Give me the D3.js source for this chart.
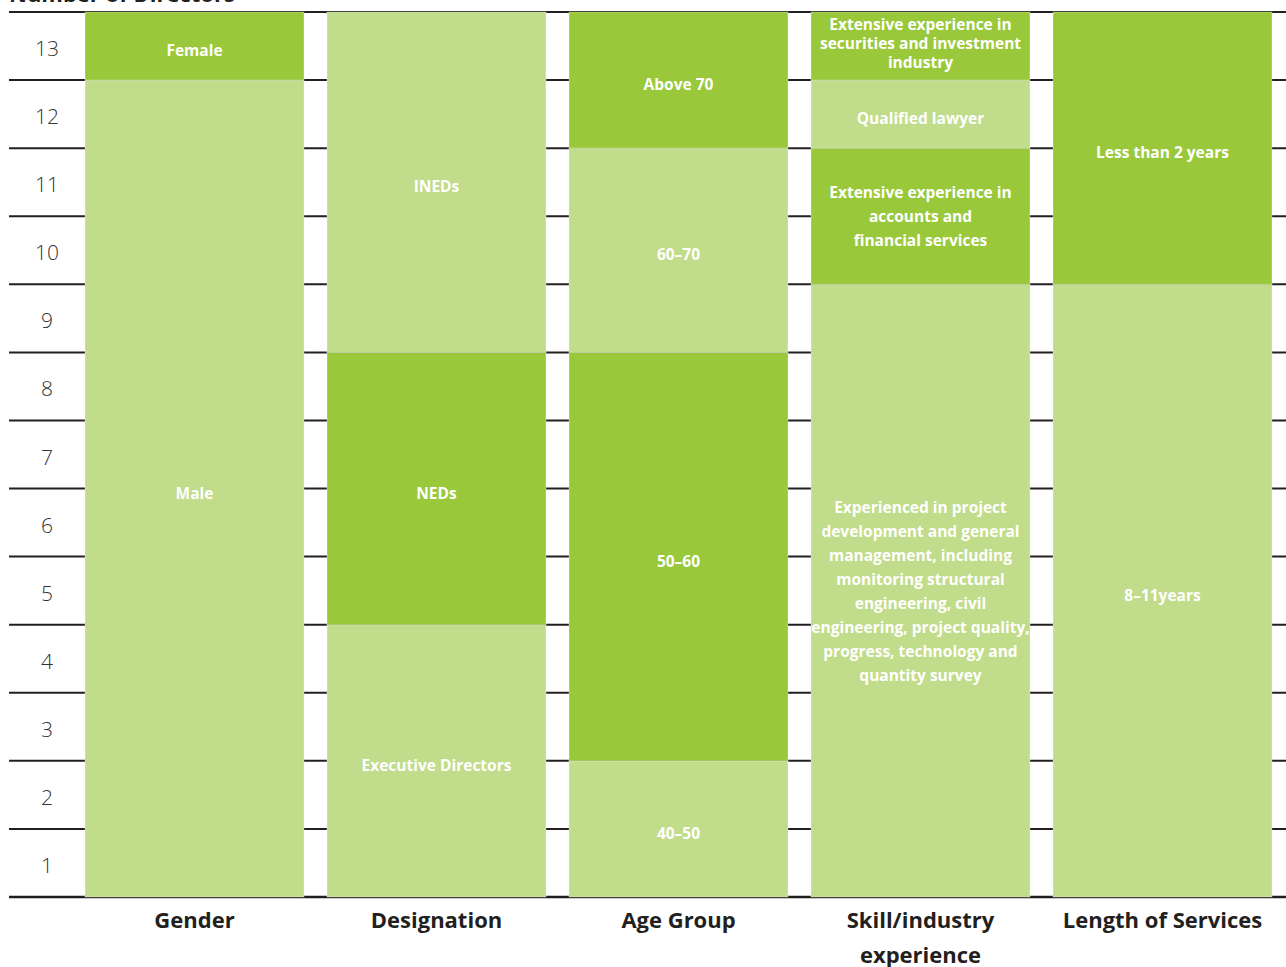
<!DOCTYPE html>
<html><head><meta charset="utf-8">
<script src="https://cdn.jsdelivr.net/npm/d3@7"></script>
<style>body{margin:0;background:#fff}svg{display:block}</style>
</head><body>
<svg id="c" width="1286" height="967"></svg>
<script>
const title = "Number of Directors";
const categories = ["Gender", "Designation", "Age Group", "Skill/industry experience", "Length of Services"];
const categoryLines = [["Gender"], ["Designation"], ["Age Group"], ["Skill/industry", "experience"], ["Length of Services"]];
const tickLabels = [1,2,3,4,5,6,7,8,9,10,11,12,13];

const genderSegments = [
  {label:["Male"], value:12, tone:"light"},
  {label:["Female"], value:1, tone:"dark"}
];
const designationSegments = [
  {label:["Executive Directors"], value:4, tone:"light"},
  {label:["NEDs"], value:4, tone:"dark"},
  {label:["INEDs"], value:5, tone:"light"}
];
const ageSegments = [
  {label:["40–50"], value:2, tone:"light"},
  {label:["50–60"], value:6, tone:"dark"},
  {label:["60–70"], value:3, tone:"light"},
  {label:["Above 70"], value:2, tone:"dark"}
];
const skillSegments = [
  {label:["Experienced in project","development and general","management, including","monitoring structural","engineering, civil","engineering, project quality,","progress, technology and","quantity survey"], value:9, tone:"light"},
  {label:["Extensive experience in","accounts and","financial services"], value:2, tone:"dark"},
  {label:["Qualified lawyer"], value:1, tone:"light"},
  {label:["Extensive experience in","securities and investment","industry"], value:1, tone:"dark"}
];
const serviceSegments = [
  {label:["8–11years"], value:9, tone:"light"},
  {label:["Less than 2 years"], value:4, tone:"dark"}
];
const columns = [genderSegments, designationSegments, ageSegments, skillSegments, serviceSegments];

const colors = {dark:"#99c93b", light:"#c1dc8a"};
const svg = d3.select("#c");
const font = "'Open Sans', 'Noto Sans', sans-serif";

const x = d3.scaleBand().domain(categories).range([85, 1272]).paddingInner(0.095).paddingOuter(0);
const y = d3.scaleLinear().domain([0, 13]).range([897, 12]);

// gridlines
svg.append("g").selectAll("line").data(d3.range(0, 14)).join("line")
  .attr("x1", 9).attr("x2", 1286)
  .attr("y1", d => y(d)).attr("y2", d => y(d))
  .attr("stroke", "#231f20").attr("stroke-width", d => d === 0 ? 2.5 : 2);

// title (cut off at top)
svg.append("text").attr("x", 9).attr("y", 2)
  .attr("font-family", font).attr("font-weight", 700).attr("font-size", 22)
  .attr("fill", "#231f20").text(title);

// y tick labels
svg.append("g").selectAll("text").data(tickLabels).join("text")
  .attr("x", 47).attr("y", d => y(d - 0.5) + 2)
  .attr("text-anchor", "middle").attr("dominant-baseline", "central")
  .attr("font-family", font).attr("font-weight", 300).attr("font-size", 21)
  .attr("fill", "#333").text(d => d);

// bars
columns.forEach((segs, i) => {
  const cat = categories[i];
  let acc = 0;
  const stacked = segs.map(s => { const o = {...s, y0: acc, y1: acc + s.value}; acc += s.value; return o; });
  const g = svg.append("g");
  g.selectAll("rect").data(stacked).join("rect")
    .attr("x", x(cat)).attr("width", x.bandwidth())
    .attr("y", d => y(d.y1)).attr("height", d => y(d.y0) - y(d.y1))
    .attr("fill", d => colors[d.tone])
    .attr("stroke", "rgba(255,255,255,0.3)").attr("stroke-width", 1);
  stacked.forEach(d => {
    const h = y(d.y0) - y(d.y1);
    const n = d.label.length;
    const lh = Math.min(24, (h - 12) / n);
    const off = n === 1 ? 4 : (lh < 24 ? -3 : 0);
    const cy = y((d.y0 + d.y1) / 2) + off;
    const t = g.append("text").attr("text-anchor", "middle")
      .attr("font-family", font).attr("font-weight", 700).attr("font-size", 15.5)
      .attr("fill", "#fff");
    d.label.forEach((line, k) => {
      t.append("tspan").attr("x", x(cat) + x.bandwidth() / 2)
        .attr("y", cy + (k - (n - 1) / 2) * lh)
        .attr("dominant-baseline", "central").text(line);
    });
  });
});

// category labels
categoryLines.forEach((lines, i) => {
  const t = svg.append("text").attr("text-anchor", "middle")
    .attr("font-family", font).attr("font-weight", 700).attr("font-size", 22)
    .attr("fill", "#231f20");
  lines.forEach((line, k) => {
    t.append("tspan").attr("x", x(categories[i]) + x.bandwidth() / 2)
      .attr("y", 919 + k * 35).attr("dominant-baseline", "central").text(line);
  });
});
</script>
</body></html>
